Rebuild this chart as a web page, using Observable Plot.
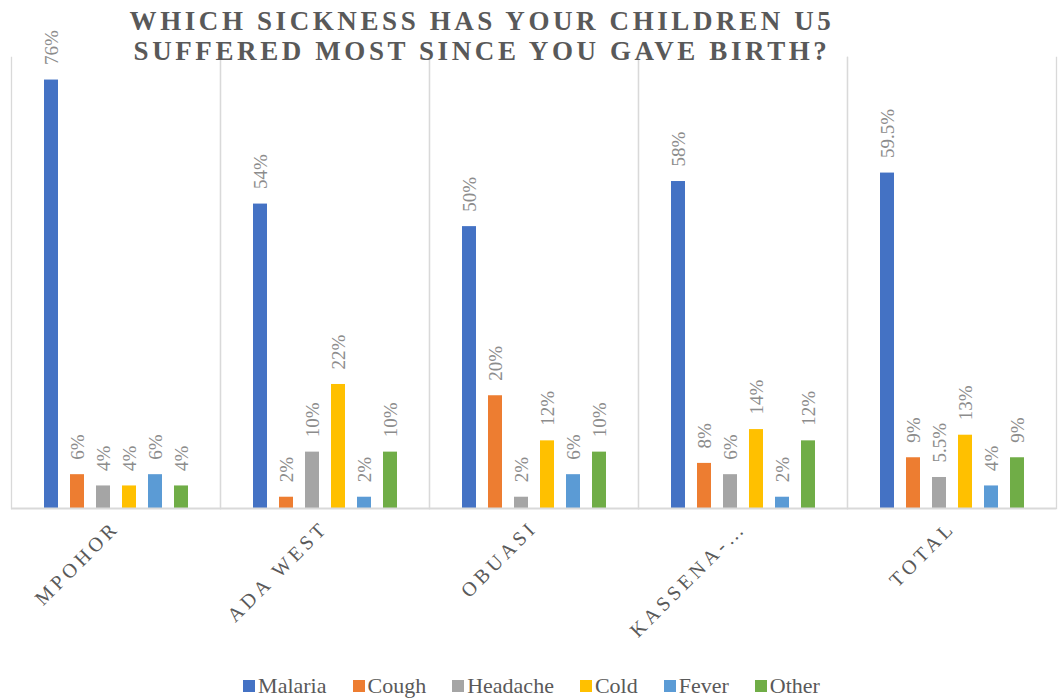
<!DOCTYPE html>
<html>
<head>
<meta charset="utf-8">
<script src="https://cdn.jsdelivr.net/npm/d3@7"></script>
<script src="https://cdn.jsdelivr.net/npm/@observablehq/plot@0.6"></script>
<style>
  body { margin: 0; background: #fff; font-family: "Liberation Serif", "Tinos", "Times New Roman", "DejaVu Serif", serif; }
  #wrap { position: relative; width: 1063px; height: 700px; }
  #title { position: absolute; left: 0; top: 6px; width: 964px; text-align: center;
    font-family: "Liberation Serif", "Tinos", "Times New Roman", "DejaVu Serif", serif; font-weight: bold; font-size: 27px; line-height: 30px;
    letter-spacing: 3.6px; color: #595959; z-index: 2; }
  #chart { position: absolute; left: 0; top: 0; }
  #legend { position: absolute; left: 0; top: 673px; width: 1063px; display: flex; justify-content: center;
    font-family: "Liberation Serif", "Tinos", "Times New Roman", "DejaVu Serif", serif; font-size: 22px; color: #595959; }
  .item { display: flex; align-items: center; margin: 0 13px; }
  .sw { width: 12px; height: 12px; margin-right: 3px; }
  svg text { font-family: "Liberation Serif", "Tinos", "Times New Roman", "DejaVu Serif", serif; }
  g[aria-label="fx-axis tick label"] text { letter-spacing: 4px; }
</style>
</head>
<body>
<div id="wrap">
  <div id="title">WHICH SICKNESS HAS YOUR CHILDREN U5<br>SUFFERED MOST SINCE YOU GAVE BIRTH?</div>
  <div id="chart"></div>
  <div id="legend"></div>
</div>
<script>
const regions = ["Mpohor", "Ada West", "Obuasi", "Kassena-…", "Total"];
const sicknesses = ["Malaria", "Cough", "Headache", "Cold", "Fever", "Other"];
const colors = ["#4472C4", "#ED7D31", "#A5A5A5", "#FFC000", "#5B9BD5", "#70AD47"];
const malaria  = [76, 54, 50, 58, 59.5];
const cough    = [6, 2, 20, 8, 9];
const headache = [4, 10, 2, 6, 5.5];
const cold     = [4, 22, 12, 14, 13];
const fever    = [6, 2, 6, 2, 4];
const other    = [4, 10, 10, 12, 9];

const series = [malaria, cough, headache, cold, fever, other];
const data = [];
regions.forEach((r, i) => {
  sicknesses.forEach((s, j) => {
    data.push({region: r, sickness: s, value: series[j][i]});
  });
});

const chart = Plot.plot({
  width: 1063,
  height: 660,
  marginTop: 57,
  marginBottom: 152,
  marginLeft: 9,
  marginRight: 5,
  style: {background: "transparent"},
  fx: {domain: regions, padding: 0, label: null, axis: null},
  x: {domain: sicknesses, paddingInner: 0.475, paddingOuter: 1.174, axis: null},
  y: {domain: [0, 80], axis: null},
  color: {domain: sicknesses, range: colors},
  marks: [
    Plot.frame({anchor: "left", stroke: "#d9d9d9", strokeWidth: 1.3}),
    Plot.frame({anchor: "right", stroke: "#d9d9d9", strokeWidth: 1.3}),
    Plot.barY(data, {fx: "region", x: "sickness", y: "value", fill: "sickness"}),
    Plot.text(data, {fx: "region", x: "sickness", y: "value", text: d => d.value + "%",
      rotate: -90, textAnchor: "start", dy: -15, fill: "#8c8c8c", fontSize: 19}),
    Plot.ruleY([0], {stroke: "#d9d9d9", strokeWidth: 2}),
    Plot.axisFx({anchor: "bottom", tickRotate: -45, tickSize: 0, tickPadding: 16, label: null,
      tickFormat: d => d.toUpperCase(), fontSize: 20, fill: "#595959"})
  ]
});
document.getElementById("chart").appendChild(chart);

const legend = document.getElementById("legend");
sicknesses.forEach((s, j) => {
  const it = document.createElement("div");
  it.className = "item";
  const sw = document.createElement("div");
  sw.className = "sw";
  sw.style.background = colors[j];
  const t = document.createElement("span");
  t.textContent = s;
  it.appendChild(sw); it.appendChild(t);
  legend.appendChild(it);
});
</script>
</body>
</html>
